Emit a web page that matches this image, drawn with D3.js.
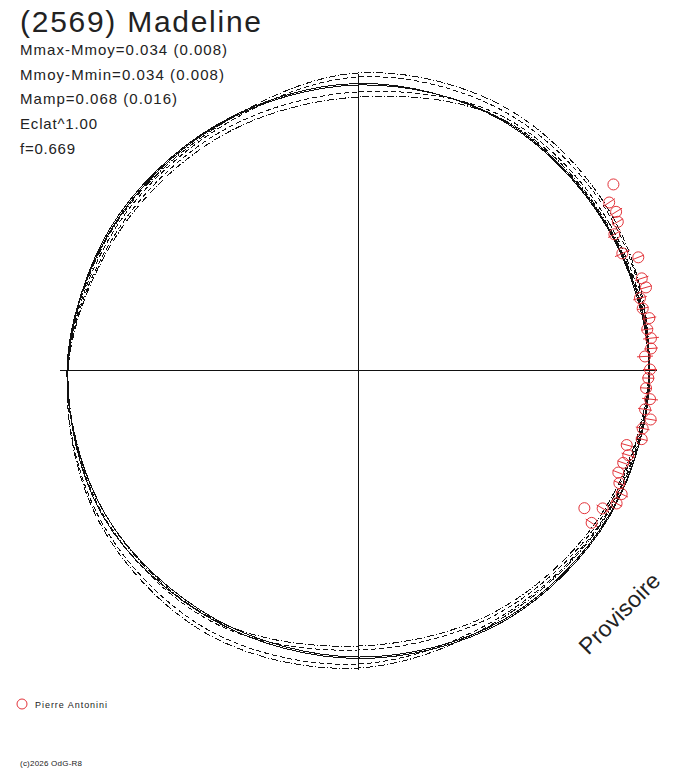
<!DOCTYPE html>
<html>
<head>
<meta charset="utf-8">
<style>
  body { margin: 0; background: #fff; }
  text { font-family: "Liberation Sans", Arial, sans-serif; fill: #222; }
</style>
</head>
<body>
<div id="chart"></div>
<script src="https://d3js.org/d3.v7.min.js"></script>
<script>
// curve radii, read every 30 deg (0 = right, counter-clockwise)
var curveAngles = [0, 30, 60, 90, 120, 150, 180, 210, 240, 270, 300, 330];
var solidMain   = [292, 288, 289, 285, 282, 284, 291, 291, 287, 287, 289, 290];
var solidSecond = [291, 287, 288, 286.5, 283, 285.5, 290, 294, 289, 288.5, 290.5, 291];
var dashedOut   = [291, 295, 297, 293, 279, 281, 290, 293, 291, 280, 281, 285];
var dashedIn    = [291.5, 291, 292, 278, 275, 278, 290.5, 298, 300, 294, 285, 287];
var dashDotOut  = [291, 297, 301, 297, 281, 283, 290, 291, 288, 276, 278, 283];
var dashDotIn   = [292, 289, 289.5, 273, 271, 276, 290, 300, 304, 298, 287, 288];

// observations: angle (deg), radius, error
var obsAngle  = [36.0, 33.7, 31.5, 29.7, 27.9, 23.8, 21.9, 17.9, 16.0, 14.3, 12.2, 10.1,
                 8.0, 6.2, 4.2, 2.7, 0.1, -1.6, -3.6, -5.7, -7.8, -9.6, -11.6, -13.7,
                 -15.6, -17.5, -19.3, -21.5, -23.4, -25.2, -27.3, -31.4, -29.5, -33.2];
var obsRadius = [315.7, 301.9, 302.7, 299.1, 290.1, 288.9, 302.1, 298.2, 299.6, 291.0, 291.3, 295.9,
                 292.1, 294.7, 293.8, 287.3, 292.0, 290.4, 288.6, 293.5, 289.7, 296.8, 290.6, 292.0,
                 279.0, 283.4, 281.0, 279.8, 284.8, 291.4, 291.0, 265.2, 281.1, 279.2];
var obsError  = [0, 7, 7, 6, 7, 8, 6, 7, 6, 7, 6, 7,
                 6, 8, 7, 8, 7, 6, 6, 8, 7, 6, 7, 6,
                 6, 7, 6, 6, 6, 7, 6, 0, 7, 7];

var titleText = "(2569) Madeline";
var infoLines = ["Mmax-Mmoy=0.034 (0.008)", "Mmoy-Mmin=0.034 (0.008)", "Mamp=0.068 (0.016)", "Eclat^1.00", "f=0.669"];
var infoWidths = [207, 204, 157, 77, 55];
var observers = ["Pierre Antonini"];

var width = 688, height = 768,
    cx = 358, cy = 370,
    red = "#e3343a";

var svg = d3.select("#chart").append("svg")
  .attr("width", width)
  .attr("height", height);

var rs = d3.scaleLinear().domain([0, 300]).range([0, 300]);
var x = d3.scaleLinear().domain([-300, 300]).range([cx - 300, cx + 300]);
var y = d3.scaleLinear().domain([-300, 300]).range([cy + 300, cy - 300]);

// axes
svg.append("line")
  .attr("x1", x(-298)).attr("x2", x(299))
  .attr("y1", y(0) + 0.5).attr("y2", y(0) + 0.5)
  .attr("stroke", "#111").attr("stroke-width", 1);
svg.append("line")
  .attr("x1", x(0) + 0.5).attr("x2", x(0) + 0.5)
  .attr("y1", y(296)).attr("y2", y(-300))
  .attr("stroke", "#111").attr("stroke-width", 1);

function toRad(deg) { return (90 - deg) * Math.PI / 180; }

var plot = svg.append("g").attr("transform", "translate(" + x(0) + "," + y(0) + ")");

var radial = d3.lineRadial()
  .angle(function(d) { return toRad(d[0]); })
  .radius(function(d) { return rs(d[1]); })
  .curve(d3.curveCatmullRomClosed);

var curves = [
  {vals: dashDotOut, dash: "7,2,1,2"},
  {vals: dashDotIn, dash: "7,2,1,2"},
  {vals: dashedOut, dash: "5,3"},
  {vals: dashedIn, dash: "5,3"},
  {vals: solidSecond, dash: null},
  {vals: solidMain, dash: null}
];

curves.forEach(function(c) {
  plot.append("path")
    .datum(curveAngles.map(function(a, i) { return [a, c.vals[i]]; }))
    .attr("d", radial)
    .attr("fill", "none")
    .attr("stroke", "#111")
    .attr("stroke-width", 1)
    .attr("shape-rendering", "crispEdges")
    .attr("stroke-dasharray", c.dash);
});

// observations
var obs = obsAngle.map(function(a, i) { return {a: a, r: obsRadius[i], e: obsError[i]}; });

plot.selectAll("line.err")
  .data(obs.filter(function(d) { return d.e > 0; }))
  .enter().append("line")
  .attr("class", "err")
  .attr("x1", function(d) { return d3.pointRadial(toRad(d.a), rs(d.r - d.e))[0]; })
  .attr("y1", function(d) { return d3.pointRadial(toRad(d.a), rs(d.r - d.e))[1]; })
  .attr("x2", function(d) { return d3.pointRadial(toRad(d.a), rs(d.r + d.e))[0]; })
  .attr("y2", function(d) { return d3.pointRadial(toRad(d.a), rs(d.r + d.e))[1]; })
  .attr("stroke", red).attr("stroke-width", 1);

plot.selectAll("circle.obs")
  .data(obs)
  .enter().append("circle")
  .attr("class", "obs")
  .attr("cx", function(d) { return d3.pointRadial(toRad(d.a), rs(d.r))[0]; })
  .attr("cy", function(d) { return d3.pointRadial(toRad(d.a), rs(d.r))[1]; })
  .attr("r", 5.5)
  .attr("fill", "none")
  .attr("stroke", red).attr("stroke-width", 1);

// texts
svg.append("text")
  .attr("x", 20).attr("y", 32)
  .attr("font-size", 30)
  .attr("textLength", 241).attr("lengthAdjust", "spacing")
  .text(titleText);

svg.selectAll("text.info")
  .data(infoLines)
  .enter().append("text")
  .attr("class", "info")
  .attr("x", 20)
  .attr("y", function(d, i) { return 55 + i * 24.7; })
  .attr("font-size", 15)
  .attr("textLength", function(d, i) { return infoWidths[i]; })
  .attr("lengthAdjust", "spacing")
  .text(function(d) { return d; });

svg.append("text")
  .attr("transform", "translate(625,619) rotate(-45)")
  .attr("text-anchor", "middle")
  .attr("font-size", 23)
  .attr("textLength", 104).attr("lengthAdjust", "spacing")
  .text("Provisoire");

// legend
var legend = svg.selectAll("g.legend")
  .data(observers)
  .enter().append("g")
  .attr("class", "legend")
  .attr("transform", function(d, i) { return "translate(22," + (704 + i * 14) + ")"; });
legend.append("circle")
  .attr("r", 5)
  .attr("fill", "none")
  .attr("stroke", red);
legend.append("text")
  .attr("x", 13).attr("y", 4)
  .attr("font-size", 9)
  .attr("textLength", 72).attr("lengthAdjust", "spacing")
  .text(function(d) { return d; });

svg.append("text")
  .attr("x", 20).attr("y", 766)
  .attr("font-size", 8)
  .attr("textLength", 62).attr("lengthAdjust", "spacing")
  .text("(c)2026 OdG-R8");
</script>
</body>
</html>
